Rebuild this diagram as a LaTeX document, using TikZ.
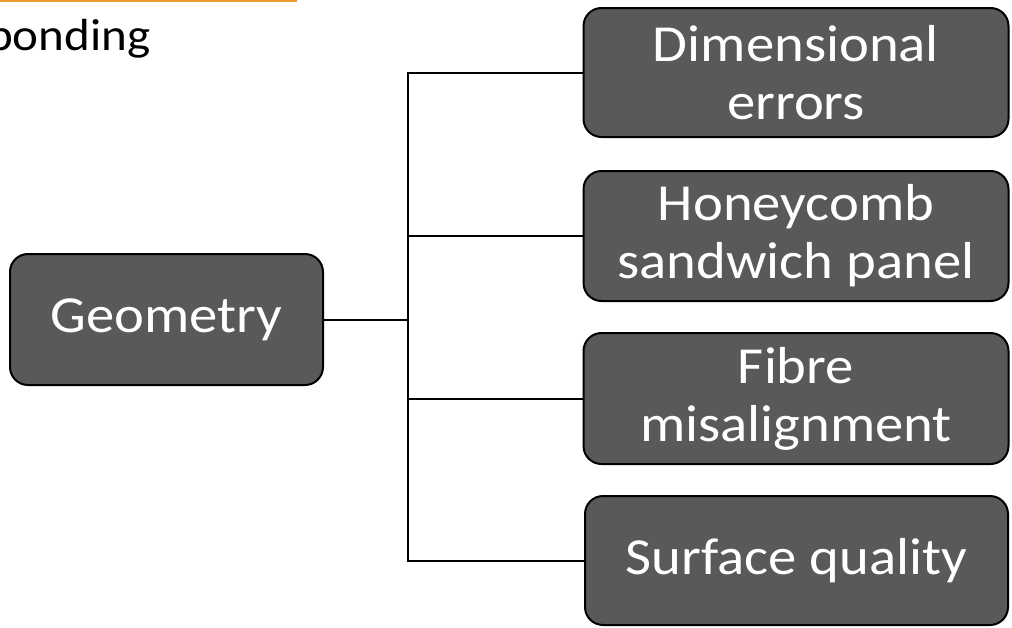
\documentclass[tikz,border=0pt]{standalone}
\usepackage{fontspec}
\setmainfont{Carlito}[FakeStretch=1.09]
\definecolor{boxgray}{RGB}{89,89,89}
\definecolor{accentorange}{RGB}{237,154,46}
\begin{document}
\begin{tikzpicture}[x=1pt,y=-1pt,
  catbox/.style={draw=black, line width=2pt, fill=boxgray, rounded corners=18pt,
    text=white, align=center, inner sep=0pt,
    font=\fontsize{52}{58}\selectfont},
  conn/.style={draw=black, line width=2pt}]
\useasboundingbox (0,0) rectangle (1012,627);
\fill[white] (0,0) rectangle (1012,627);
% top-left fragment
\draw[accentorange, line width=2.5pt] (0,0.8) -- (297,0.8);
\node[anchor=base west, inner sep=0pt, font=\fontsize{45}{54}\selectfont] (frag) at (-13,50) {ponding};
% nodes
\node[catbox, minimum width=313pt, minimum height=131pt] (geo) at (166.5,319.5) {Geometry};
\node[catbox, minimum width=425pt, minimum height=129pt] (dim) at (796,72.5) {Dimensional\\errors};
\node[catbox, minimum width=425pt, minimum height=130pt] (hon) at (796,236) {Honeycomb\\sandwich panel};
\node[catbox, minimum width=425pt, minimum height=131pt] (fib) at (796,398.5) {Fibre\\misalignment};
\node[catbox, minimum width=423pt, minimum height=129pt] (srf) at (796.5,560.5) {Surface quality};
% connectors
\coordinate (trunk) at (408,0);
\draw[conn] (dim.west) -- (dim.west -| trunk) -- (srf.west -| trunk) -- (srf.west);
\draw[conn] (hon.west) -- (hon.west -| trunk);
\draw[conn] (fib.west) -- (fib.west -| trunk);
\draw[conn] (geo.east) -- (geo.east -| trunk);
\end{tikzpicture}
\end{document}
